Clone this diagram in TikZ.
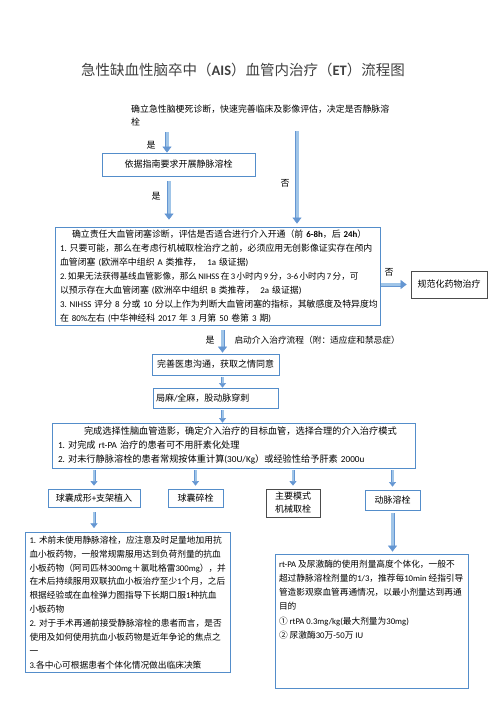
\documentclass[tikz,border=0pt]{standalone}
\usepackage{fontspec}
\setmainfont{Carlito}
\newfontfamily\cjkfont{Noto Sans CJK SC}
\usetikzlibrary{arrows.meta}

% ideographs and full-width signs go to the CJK family
\XeTeXinterchartokenstate=1
\newXeTeXintercharclass\CJKclass
\newcount\cjkcode
\newcommand\setcharrange[3]{%
  \cjkcode=#1\relax
  \loop
    \XeTeXcharclass\cjkcode=#3\relax
  \ifnum\cjkcode<#2\relax \advance\cjkcode by 1 \repeat}
\setcharrange{"0021}{"00FF}{0}
\setcharrange{"2460}{"24FF}{\CJKclass}
\setcharrange{"3000}{"303F}{\CJKclass}
\setcharrange{"4E00}{"9FFF}{\CJKclass}
\setcharrange{"FF00}{"FFEF}{\CJKclass}
\XeTeXinterchartoks 0 \CJKclass = {\begingroup\cjkfont}
\XeTeXinterchartoks 4095 \CJKclass = {\begingroup\cjkfont}
\XeTeXinterchartoks \CJKclass 0 = {\endgroup}
\XeTeXinterchartoks \CJKclass 4095 = {\endgroup}

\definecolor{boxblue}{RGB}{84,141,202}
\definecolor{arrowfill}{RGB}{160,197,232}
\definecolor{arrowedge}{RGB}{100,150,210}
\definecolor{titlegray}{RGB}{64,64,64}

\tikzset{
  bluebox/.style={draw=boxblue, line width=0.8pt, inner xsep=5pt, inner ysep=2pt},
  blackbox/.style={draw=black!70, line width=0.8pt, inner xsep=5pt, inner ysep=2pt},
  flowarrow/.style={draw=arrowedge, line width=0.5pt, double=arrowfill, double distance=3pt,
    -{Triangle[length=6pt, width=9pt]}},
  thinarrow/.style={flowarrow, double distance=2pt, -{Triangle[length=4.5pt, width=7pt]}}
}

\begin{document}
\begin{tikzpicture}[x=1pt, y=-1pt, every node/.style={font=\fontsize{9}{14}\selectfont}]
\useasboundingbox (0,0) rectangle (496,702);
% title
\node[titlegray, font=\fontsize{14.5}{16}\selectfont] (title) at (243,70)
  {急性缺血性脑卒中（\textbf{AIS}）血管内治疗（\textbf{ET}）流程图};
% decision on thrombolysis
\node[anchor=north west, inner sep=0pt, align=left, font=\fontsize{8.9}{13}\selectfont] (diag) at (131,104.5)
  {确立急性脑梗死诊断，快速完善临床及影像评估，决定是否静脉溶\\栓};
\node[bluebox, minimum width=153pt, minimum height=23pt] (ivt) at (178.5,164.5) {依据指南要求开展静脉溶栓};
\node[bluebox, text width=315pt, minimum height=98pt, align=left, inner ysep=1pt,
  font=\fontsize{8.9}{14}\selectfont] (lvo) at (217.5,276)
  {\hspace*{12pt}确立责任大血管闭塞诊断，评估是否适合进行介入开通（前 \textbf{6-8h}，后 \textbf{24h}）\\
   1.~只要可能，那么在考虑行机械取栓治疗之前，必须应用无创影像证实存在颅内\\
   血管闭塞~(欧洲卒中组织~A~类推荐，~~1a~级证据)\\
   \mbox{\fontsize{8.6}{14}\selectfont 2.\,如果无法获得基线血管影像，那么\,NIHSS\,在\,3\,小时内\,9\,分，3-6\,小时内\,7\,分，可}\\
   以预示存在大血管闭塞~(欧洲卒中组织~B~类推荐，~~2a~级证据)\\
   \mbox{3.~NIHSS~评分~8~分或~10~分以上作为判断大血管闭塞的指标，其敏感度及特异度均}\\
   在~80\%左右~(中华神经科~2017~年~3~月第~50~卷第~3~期)};
\node[blackbox, minimum width=76pt, minimum height=27pt] (drug) at (449,284.5) {规范化药物治疗};
% intervention
\node[bluebox, minimum width=125pt, minimum height=21pt] (consent) at (215.5,364.5) {完善医患沟通，获取之情同意};
\node[bluebox, text width=119pt, minimum height=20pt, align=left, inner xsep=3pt] (anesth) at (215.5,398) {局麻/全麻，股动脉穿刺};
\node[bluebox, text width=351pt, minimum height=45pt, align=left, inner xsep=6pt, inner ysep=1pt,
  font=\fontsize{9.2}{14}\selectfont] (angio) at (233.5,445.5)
  {\hspace*{26pt}完成选择性脑血管造影，确定介入治疗的目标血管，选择合理的介入治疗模式\\
   1.~对完成~rt-PA~治疗的患者可不用肝素化处理\\
   2.~对未行静脉溶栓的患者常规按体重计算(30U/Kg）或经验性给予肝素~2000u};
\node[bluebox, minimum width=92pt, minimum height=18pt, inner ysep=1pt] (stent) at (94,498) {球囊成形+支架植入};
\node[bluebox, minimum width=55pt, minimum height=18pt, inner ysep=1pt] (balloon) at (195.5,498) {球囊碎栓};
\node[blackbox, minimum width=54pt, minimum height=28pt, align=left, font=\fontsize{9}{13}\selectfont] (mt) at (293,503) {主要模式\\机械取栓};
\node[bluebox, minimum width=55pt, minimum height=20pt] (ia) at (392.5,500) {动脉溶栓};
\node[bluebox, text width=197pt, align=left, inner xsep=4pt, inner ysep=3.5pt,
  font=\fontsize{8.7}{13.9}\selectfont] (antiplt) at (128,602.5)
  {1.~术前未使用静脉溶栓，应注意及时足量地加用抗\\
   血小板药物，一般常规需服用达到负荷剂量的抗血\\
   小板药物（阿司匹林300mg＋氯吡格雷300mg），并\\
   在术后持续服用双联抗血小板治疗至少1个月，之后\\
   根据经验或在血栓弹力图指导下长期口服1种抗血\\
   小板药物\\
   2.~对于手术再通前接受静脉溶栓的患者而言，是否\\
   使用及如何使用抗血小板药物是近年争论的焦点之\\
   一\\
   3.各中心可根据患者个体化情况做出临床决策};
\node[bluebox, inner xsep=4pt, inner ysep=6pt, font=\fontsize{8.7}{14.2}\selectfont] (dose) at (371.5,621)
  {\begin{minipage}[c][122pt][t]{185pt}\raggedright
   rt-PA~及尿激酶的使用剂量高度个体化，一般不\\
   超过静脉溶栓剂量的1/3，推荐每10min~经指引导\\
   管造影观察血管再通情况，以最小剂量达到再通\\
   目的\\
   ①~rtPA~0.3mg/kg(最大剂量为30mg)\\
   ②~尿激酶30万-50万~IU
   \end{minipage}};
% labels
\node (yes1) at (151,145) {是};
\node (yes2) at (156,196) {是};
\node (no1) at (285,183) {否};
\node (no2) at (389,272) {否};
\node (yes3) at (210,340) {是};
\node[anchor=west, font=\fontsize{8.7}{10}\selectfont] (start) at (231,340) {启动介入治疗流程（附：适应症和禁忌症）};
% arrows
\coordinate (yestop) at ([xshift=36pt,yshift=-6pt]diag.south west);
\coordinate (notop) at ([xshift=166pt,yshift=-5pt]diag.south west);
\coordinate (yesmid) at ([xshift=-9.5pt,yshift=-5pt]ivt.south);
\coordinate (yesbot) at ([xshift=5pt,yshift=-5pt]lvo.south);
\draw[flowarrow] (yestop) -- (yestop |- ivt.north);
\draw[flowarrow, shorten >=7pt] (yesmid) -- (yesmid |- lvo.north);
\draw[flowarrow, shorten >=3pt] (notop) -- (notop |- lvo.north);
\draw[flowarrow, shorten <=1pt, shorten >=4pt] (lvo.east |- drug.west) -- (drug.west);
\draw[flowarrow, shorten >=1pt] (yesbot) -- (yesbot |- consent.north);
\draw[thinarrow, shorten <=2pt] (consent.south -| yesbot) -- (anesth.north -| yesbot);
\draw[thinarrow, shorten <=2pt] (anesth.south -| yesbot) -- (angio.north -| yesbot);
\foreach \mode in {stent,balloon,mt,ia}
  \draw[thinarrow, shorten <=2pt, shorten >=3pt] (angio.south -| \mode.north) -- (\mode.north);
\draw[thinarrow, shorten <=5pt, shorten >=4pt] (stent.south) -- (stent.south |- antiplt.north);
\draw[flowarrow, shorten <=3pt, shorten >=2pt] (ia.south) -- (ia.south |- dose.north);
\end{tikzpicture}
\end{document}
